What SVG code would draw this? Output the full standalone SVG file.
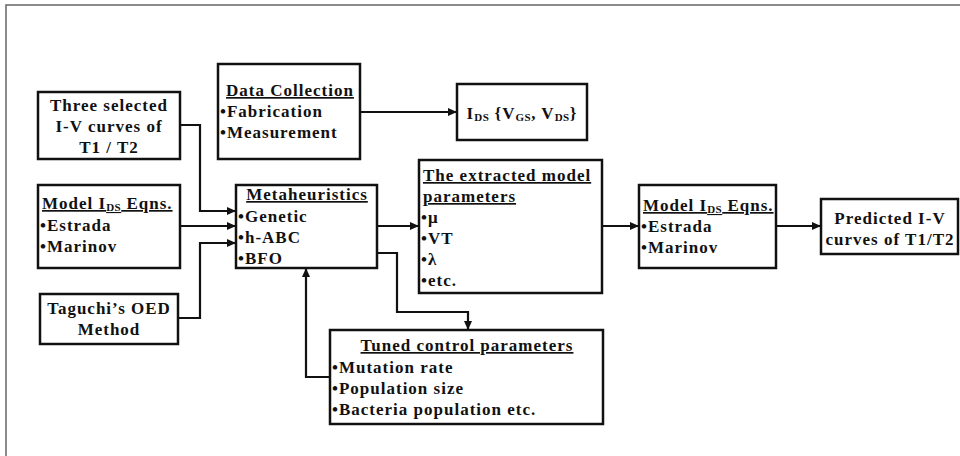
<svg xmlns="http://www.w3.org/2000/svg" width="960" height="456" viewBox="0 0 960 456">
<style>
  .box { fill: #fff; stroke: #111; stroke-width: 2.5; }
  .t { font-family: "Liberation Serif", "Times New Roman", serif; font-weight: bold; font-size: 17px; letter-spacing: 1px; fill: #111; }
  .c { text-anchor: middle; }
  .u { text-decoration: underline; }
  .sub { font-size: 11px; letter-spacing: 0.5px; }
  .conn { fill: none; stroke: #111; stroke-width: 2.2; marker-end: url(#arr); }
  .frame { fill: none; stroke: #666; stroke-width: 1.5; }
</style>
<defs>
  <marker id="arr" markerWidth="10" markerHeight="8" refX="9" refY="4" orient="auto" markerUnits="userSpaceOnUse">
    <path d="M0,0 L9,4 L0,8 Z" fill="#111"/>
  </marker>
</defs>
<rect width="960" height="456" fill="#fff"/>
<path class="frame" d="M6,456 V5 H960"/>

<g id="three-selected">
  <rect class="box" x="38" y="92" width="142" height="67"/>
  <text class="t c" x="109" y="111">Three selected</text>
  <text class="t c" x="109" y="132">I-V curves of</text>
  <text class="t c" x="109" y="153">T1 / T2</text>
</g>

<g id="data-collection">
  <rect class="box" x="218" y="64" width="142" height="95"/>
  <text class="t c u" x="290" y="96">Data Collection</text>
  <text class="t" x="220" y="117">•Fabrication</text>
  <text class="t" x="220" y="138">•Measurement</text>
</g>

<g id="ids">
  <rect class="box" x="457" y="84" width="130" height="56"/>
  <text class="t c" x="522" y="119">I<tspan class="sub" dy="2">DS</tspan><tspan dy="-2"> {V</tspan><tspan class="sub" dy="2">GS</tspan><tspan dy="-2">, V</tspan><tspan class="sub" dy="2">DS</tspan><tspan dy="-2">}</tspan></text>
</g>

<g id="model-left">
  <rect class="box" x="38" y="185" width="142" height="83"/>
  <text class="t u" x="42" y="209">Model I<tspan class="sub" dy="2">DS</tspan><tspan dy="-2"> Eqns.</tspan></text>
  <text class="t" x="40" y="231">•Estrada</text>
  <text class="t" x="40" y="252">•Marinov</text>
</g>

<g id="taguchi">
  <rect class="box" x="40" y="294" width="138" height="50"/>
  <text class="t c" x="109" y="314">Taguchi’s OED</text>
  <text class="t c" x="109" y="335">Method</text>
</g>

<g id="metaheuristics">
  <rect class="box" x="236" y="185" width="141" height="83"/>
  <text class="t c u" x="307" y="200">Metaheuristics</text>
  <text class="t" x="238" y="222">•Genetic</text>
  <text class="t" x="238" y="243">•h-ABC</text>
  <text class="t" x="238" y="264">•BFO</text>
</g>

<g id="extracted">
  <rect class="box" x="419" y="160" width="183" height="133"/>
  <text class="t u" x="423" y="181">The extracted model</text>
  <text class="t u" x="423" y="202">parameters</text>
  <text class="t" x="421" y="223">•μ</text>
  <text class="t" x="421" y="244">•VT</text>
  <text class="t" x="421" y="265">•λ</text>
  <text class="t" x="421" y="286">•etc.</text>
</g>

<g id="model-right">
  <rect class="box" x="639" y="185" width="137" height="83"/>
  <text class="t u" x="643" y="211">Model I<tspan class="sub" dy="2">DS</tspan><tspan dy="-2"> Eqns.</tspan></text>
  <text class="t" x="641" y="232">•Estrada</text>
  <text class="t" x="641" y="253">•Marinov</text>
</g>

<g id="predicted">
  <rect class="box" x="821" y="199" width="137" height="55"/>
  <text class="t c" x="890" y="224">Predicted I-V</text>
  <text class="t c" x="890" y="245">curves of T1/T2</text>
</g>

<g id="tuned">
  <rect class="box" x="330" y="330" width="273" height="94"/>
  <text class="t c u" x="467" y="351">Tuned control parameters</text>
  <text class="t" x="332" y="373">•Mutation rate</text>
  <text class="t" x="332" y="394">•Population size</text>
  <text class="t" x="332" y="415">•Bacteria population etc.</text>
</g>

<g id="connectors">
  <path class="conn" d="M180,125 H200 V211 H236"/>
  <path class="conn" d="M180,226 H236"/>
  <path class="conn" d="M178,318 H200 V243 H236"/>
  <path class="conn" d="M360,112 H457"/>
  <path class="conn" d="M377,226 H419"/>
  <path class="conn" d="M377,253 H397 V312 H468 V330"/>
  <path class="conn" d="M330,377 H306 V268"/>
  <path class="conn" d="M602,226 H639"/>
  <path class="conn" d="M776,226 H821"/>
</g>
</svg>
